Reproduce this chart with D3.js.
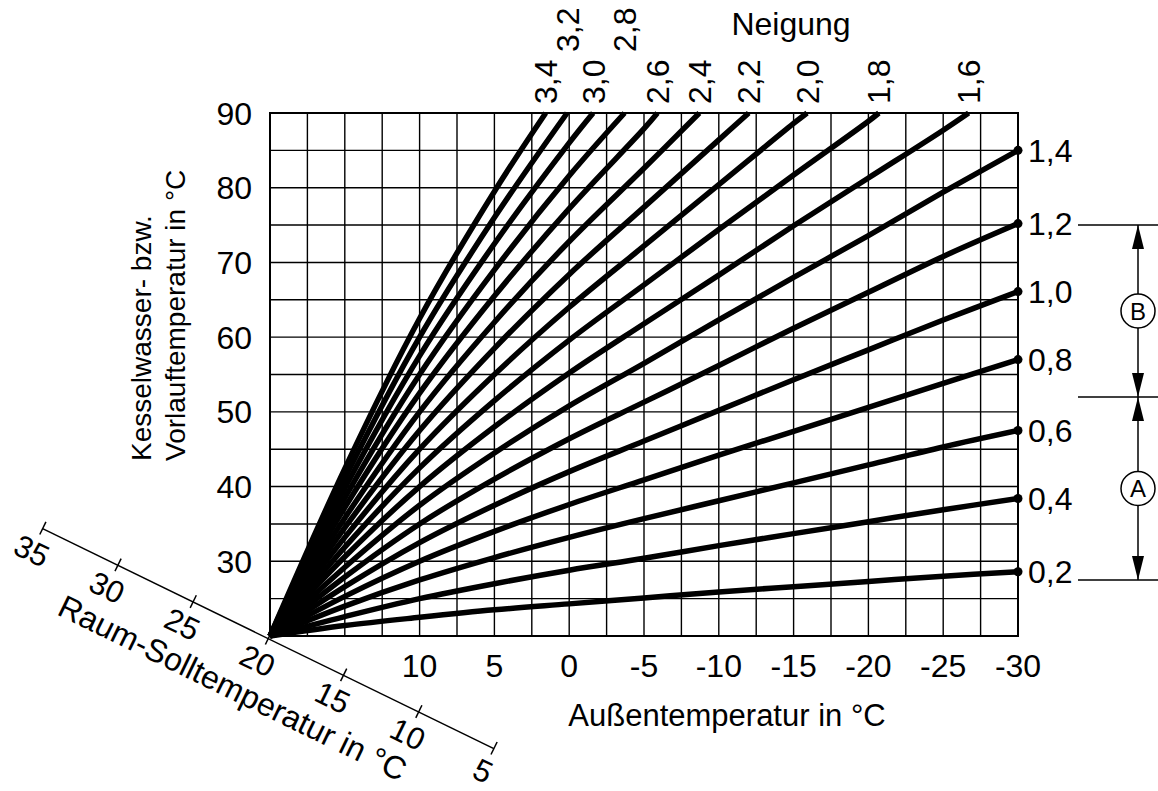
<!DOCTYPE html>
<html>
<head>
<meta charset="utf-8">
<script src="https://cdn.jsdelivr.net/npm/d3@7"></script>
<style>
body { margin: 0; background: #fff; }
svg text { font-family: "Liberation Sans", Arial, sans-serif; fill: #000; }
</style>
</head>
<body>
<svg id="chart" width="1158" height="791"></svg>
<script>
var outsideTemps = [20, 15, 10, 5, 0, -5, -10, -15, -20, -25, -30];

// Neigung (slope) of each heating curve
var slopeLabels = ["0,2", "0,4", "0,6", "0,8", "1,0", "1,2", "1,4", "1,6", "1,8",
                   "2,0", "2,2", "2,4", "2,6", "2,8", "3,0", "3,2", "3,4"];

// Vorlauftemperatur per curve, one value per outsideTemps entry
var flow02 = [20, 21.4, 22.5, 23.5, 24.3, 25.1, 25.9, 26.6, 27.3, 28.0, 28.6];
var flow04 = [20, 22.6, 25.0, 27.0, 28.8, 30.4, 32.1, 33.7, 35.3, 36.9, 38.4];
var flow06 = [20, 24.0, 27.5, 30.5, 33.2, 35.7, 38.1, 40.5, 42.9, 45.3, 47.5];
var flow08 = [20, 25.3, 30.0, 34.0, 37.6, 40.9, 44.2, 47.4, 50.6, 53.8, 57.0];
var flow10 = [20, 26.6, 32.5, 37.5, 42.0, 46.1, 50.2, 54.3, 58.3, 62.3, 66.1];
var flow12 = [20, 27.9, 35.0, 41.0, 46.4, 51.3, 56.2, 61.2, 66.0, 70.8, 75.2];
var flow14 = [20, 29.2, 37.5, 44.5, 50.8, 56.5, 62.3, 68.0, 73.6, 79.4, 85.0];
var flow16 = [20, 30.6, 40.0, 48.0, 55.2, 61.8, 68.3, 74.9, 81.3, 87.7];
var flow18 = [20, 31.9, 42.5, 51.5, 59.6, 67.0, 74.4, 81.7, 88.9];
var flow20 = [20, 33.2, 45.0, 55.0, 64.0, 72.2, 80.4, 88.6];
var flow22 = [20, 34.5, 47.5, 58.5, 68.4, 77.4, 86.4];
var flow24 = [20, 35.8, 50.0, 62.0, 72.8, 82.6];
var flow26 = [20, 37.2, 52.5, 65.5, 77.2, 87.9];
var flow28 = [20, 38.5, 55.0, 69.0, 81.6];
var flow30 = [20, 39.8, 57.5, 72.5, 86.0];
var flow32 = [20, 41.1, 60.0, 76.0];
var flow34 = [20, 42.4, 62.5, 79.5];

// outside temperature where a curve runs into the 90 °C top edge (null = reaches -30)
var topEnds = [null, null, null, null, null, null, null, -26.7, -20.7,
               -15.9, -12.0, -8.7, -5.9, -3.7, -1.6, 0.14, 1.57];
var topTemp = 90;

// these two labels sit one row higher
var raisedLabels = ["3,2", "2,8"];

var yTicks = [30, 40, 50, 60, 70, 80, 90];
var xTicks = [10, 5, 0, -5, -10, -15, -20, -25, -30];
var roomTicks = [35, 30, 25, 20, 15, 10, 5];

// ranges marked on the right side
var rangeBounds = [27.5, 52, 75];
var rangeNames = ["A", "B"];

var flows = [flow02, flow04, flow06, flow08, flow10, flow12, flow14, flow16, flow18,
             flow20, flow22, flow24, flow26, flow28, flow30, flow32, flow34];

var curves = slopeLabels.map(function(lab, i) {
  var pts = flows[i].map(function(v, j) { return [outsideTemps[j], v]; });
  if (topEnds[i] !== null) pts.push([topEnds[i], topTemp]);
  return {label: lab, pts: pts, top: topEnds[i] !== null};
});

var svg = d3.select("#chart");

var x = d3.scaleLinear().domain([20, -30]).range([270, 1018]);
var y = d3.scaleLinear().domain([20, 90]).range([636, 113]);

// grid
var grid = svg.append("g").attr("stroke", "#000").attr("stroke-width", 1.4);
grid.selectAll("line.v")
  .data(d3.range(20, -30.01, -2.5))
  .enter().append("line")
  .attr("x1", function(d) { return x(d); })
  .attr("x2", function(d) { return x(d); })
  .attr("y1", y(20)).attr("y2", y(90));
grid.selectAll("line.h")
  .data(d3.range(20, 90.01, 5))
  .enter().append("line")
  .attr("x1", x(20)).attr("x2", x(-30))
  .attr("y1", function(d) { return y(d); })
  .attr("y2", function(d) { return y(d); });
svg.append("rect")
  .attr("x", x(20)).attr("y", y(90))
  .attr("width", x(-30) - x(20)).attr("height", y(20) - y(90))
  .attr("fill", "none").attr("stroke", "#000").attr("stroke-width", 2);

// heating curves
var line = d3.line()
  .x(function(d) { return x(d[0]); })
  .y(function(d) { return y(d[1]); })
  .curve(d3.curveCatmullRom.alpha(0.5));

svg.append("g").selectAll("path")
  .data(curves)
  .enter().append("path")
  .attr("d", function(d) { return line(d.pts); })
  .attr("fill", "none")
  .attr("stroke", "#000")
  .attr("stroke-width", 5.5);

var rightCurves = curves.filter(function(c) { return !c.top; });
var topCurves = curves.filter(function(c) { return c.top; });

svg.append("g").selectAll("circle")
  .data(rightCurves)
  .enter().append("circle")
  .attr("cx", x(-30))
  .attr("cy", function(d) { return y(d.pts[d.pts.length - 1][1]); })
  .attr("r", 4.5);

svg.append("g").selectAll("text")
  .data(rightCurves)
  .enter().append("text")
  .attr("x", 1028)
  .attr("y", function(d) { return y(d.pts[d.pts.length - 1][1]); })
  .attr("dy", "0.36em")
  .attr("font-size", 32)
  .text(function(d) { return d.label; });

svg.append("g").selectAll("text")
  .data(topCurves)
  .enter().append("text")
  .attr("transform", function(d) {
    var xe = x(d.pts[d.pts.length - 1][0]);
    var yb = raisedLabels.indexOf(d.label) >= 0 ? 52 : 104;
    return "translate(" + xe + "," + yb + ")rotate(-90)";
  })
  .attr("dy", "0.36em")
  .attr("font-size", 32)
  .text(function(d) { return d.label; });

svg.append("text")
  .attr("x", 791).attr("y", 35)
  .attr("text-anchor", "middle")
  .attr("font-size", 32)
  .text("Neigung");

// y ticks
svg.append("g").selectAll("text")
  .data(yTicks)
  .enter().append("text")
  .attr("x", 252)
  .attr("y", function(d) { return y(d); })
  .attr("dy", "0.36em")
  .attr("text-anchor", "end")
  .attr("font-size", 32)
  .text(function(d) { return d; });

// x ticks
svg.append("g").selectAll("text")
  .data(xTicks)
  .enter().append("text")
  .attr("x", function(d) { return x(d); })
  .attr("y", 677)
  .attr("text-anchor", "middle")
  .attr("font-size", 32)
  .text(function(d) { return d; });

svg.append("text")
  .attr("x", 727).attr("y", 726)
  .attr("text-anchor", "middle")
  .attr("font-size", 31)
  .text("Außentemperatur in °C");

// y title, two lines
var yTitle = svg.append("g").attr("transform", "translate(0,461)rotate(-90)");
yTitle.append("text").attr("x", 0).attr("y", 151).attr("font-size", 28).text("Kesselwasser- bzw.");
yTitle.append("text").attr("x", 0).attr("y", 185).attr("font-size", 28).text("Vorlauftemperatur in °C");

// slanted room temperature axis
var room = d3.scaleLinear().domain([35, 5]).range([-251, 251]);
var roomAxis = svg.append("g")
  .attr("transform", "translate(268,638)rotate(26)")
  .call(d3.axisBottom(room).tickValues(roomTicks).tickSize(7).tickSizeOuter(0).tickPadding(7));
roomAxis.select(".domain").attr("stroke", "#000").attr("stroke-width", 1.5);
roomAxis.selectAll(".tick line").attr("y1", -7).attr("stroke", "#000").attr("stroke-width", 1.5);
roomAxis.selectAll(".tick text")
  .style("font-family", '"Liberation Sans", Arial, sans-serif')
  .style("font-size", "31px")
  .attr("fill", "#000");
roomAxis.append("text")
  .attr("x", -10).attr("y", 60)
  .attr("dy", "0.36em")
  .attr("text-anchor", "middle")
  .style("font-family", '"Liberation Sans", Arial, sans-serif')
  .style("font-size", "32px")
  .attr("fill", "#000")
  .text("Raum-Solltemperatur in °C");

// range markers A / B
var defs = svg.append("defs");
defs.append("marker")
  .attr("id", "arr")
  .attr("viewBox", "0 0 24 12")
  .attr("refX", 24).attr("refY", 6)
  .attr("markerWidth", 24).attr("markerHeight", 12)
  .attr("markerUnits", "userSpaceOnUse")
  .attr("orient", "auto-start-reverse")
  .append("path").attr("d", "M0,0L24,6L0,12z").attr("fill", "#000");

var ax = 1138;
svg.append("g").selectAll("line")
  .data(rangeBounds)
  .enter().append("line")
  .attr("x1", 1078).attr("x2", 1158)
  .attr("y1", function(d) { return y(d); })
  .attr("y2", function(d) { return y(d); })
  .attr("stroke", "#000").attr("stroke-width", 1.5);

rangeNames.forEach(function(name, i) {
  var y1 = y(rangeBounds[i]), y2 = y(rangeBounds[i + 1]);
  svg.append("line")
    .attr("x1", ax).attr("x2", ax)
    .attr("y1", y1).attr("y2", y2)
    .attr("stroke", "#000").attr("stroke-width", 1.5)
    .attr("marker-start", "url(#arr)")
    .attr("marker-end", "url(#arr)");
  var cy = (y1 + y2) / 2;
  svg.append("circle")
    .attr("cx", ax).attr("cy", cy).attr("r", 17)
    .attr("fill", "#fff").attr("stroke", "#000").attr("stroke-width", 1.5);
  svg.append("text")
    .attr("x", ax).attr("y", cy).attr("dy", "0.36em")
    .attr("text-anchor", "middle")
    .attr("font-size", 24)
    .text(name);
});
</script>
</body>
</html>
